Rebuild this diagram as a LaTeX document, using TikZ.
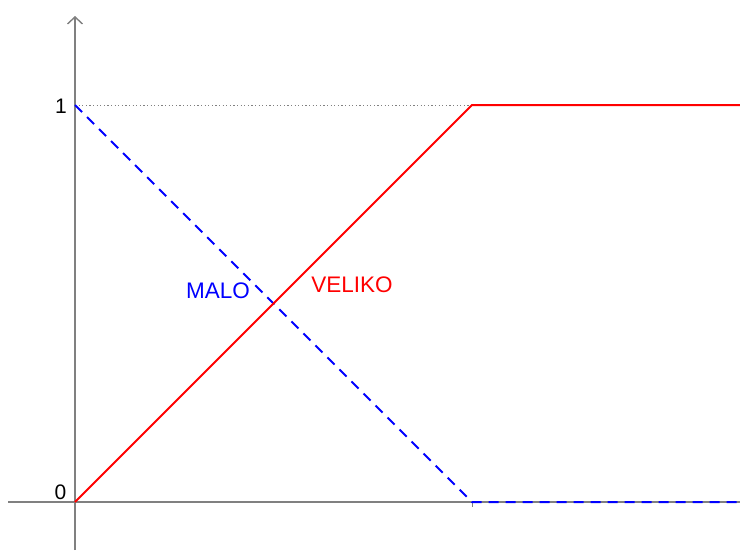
\documentclass[tikz,border=0pt]{standalone}
\usepackage{fontspec}
\setmainfont{Liberation Sans}
\usetikzlibrary{arrows.meta}
\begin{document}
\begin{tikzpicture}[x=1pt,y=-1pt,
  axis/.style={draw=black!50, line width=1.4pt},
  veliko/.style={draw=red, line width=2pt},
  malo/.style={draw=blue, line width=2pt, dash pattern=on 10pt off 7pt},
  guide/.style={draw=black!50, line width=0.8pt, dash pattern=on 1.2pt off 2.4pt},
  lbl/.style={font=\fontsize{21}{24}\selectfont, inner sep=0pt}]
\useasboundingbox (0,0) rectangle (740,550);
\fill[white] (0,0) rectangle (740,550);
% coordinates
\coordinate (O) at (75,502);
\coordinate (Y1) at (75,105);
\coordinate (K) at (472,105);
\coordinate (KX) at (472,502);
\coordinate (R1) at (740,105);
\coordinate (R0) at (740,502);
\coordinate (XL) at (8,502);
\coordinate (YB) at (75,550);
\coordinate (YT) at (75,16);
% axes
\draw[axis] (XL) -- (R0);
\draw[axis, -{Straight Barb[length=7pt,width=15pt,line width=1.4pt]}] (YB) -- (YT);
\draw[axis, line width=1pt] (KX) -- ++(0,5);
% guide
\draw[guide] (Y1) -- (K);
% curves
\draw[malo] (Y1) -- (KX) -- (R0);
\draw[veliko, line join=miter] (O) -- (K) -- (R1);
% labels
\node[lbl] (one) at (61,106) {1};
\node[lbl] (zero) at (60.5,492) {0};
\node[lbl, text=blue, font=\fontsize{22.5}{24}\selectfont] (malo) at (218,291) {MALO};
\node[lbl, text=red, font=\fontsize{22.5}{24}\selectfont] (velikolbl) at (352,285) {VELIKO};
\end{tikzpicture}
\end{document}
